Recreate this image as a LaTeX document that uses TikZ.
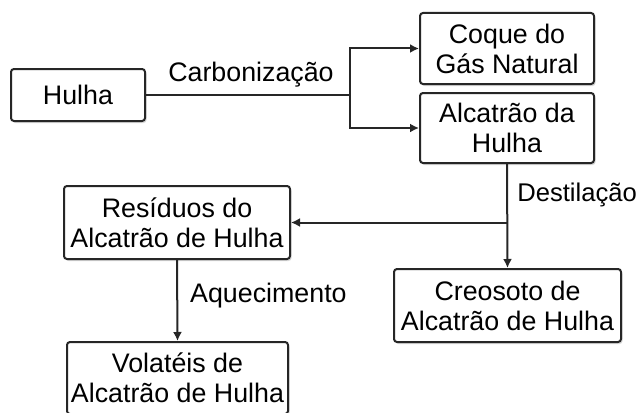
\documentclass[tikz,border=0pt]{standalone}
\usepackage{fontspec}
\setmainfont{Liberation Sans}
\usetikzlibrary{arrows.meta,shadows}
\begin{document}
\begin{tikzpicture}[x=1pt,y=-1pt,
  box/.style={draw=black!85,line width=2pt,rounded corners=3pt,fill=white,
    align=center,inner sep=0pt,font=\fontsize{26.8}{30}\selectfont,
    drop shadow={shadow xshift=1.5pt,shadow yshift=-2pt,fill=black!25,opacity=0.6}},
  conn/.style={line width=2pt,draw=black!85},
  arr/.style={conn,-{Latex[length=9pt,width=9pt]}},
  lbl/.style={font=\fontsize{26.8}{30}\selectfont,inner sep=0pt}]
\useasboundingbox (0,0) rectangle (639,412);
\clip (0,0) rectangle (639,412);
\node[box,minimum width=134pt,minimum height=52pt] (hulha) at (78,95) {Hulha};
\node[box,minimum width=174pt,minimum height=71pt] (coque) at (507,48.5) {Coque do\\Gás Natural};
\node[box,minimum width=174pt,minimum height=70pt] (alc) at (507,128) {Alcatrão da\\Hulha};
\node[box,minimum width=226pt,minimum height=73pt] (res) at (177,222.5) {Resíduos do\\Alcatrão de Hulha};
\node[box,minimum width=227pt,minimum height=73pt] (cre) at (507.5,305.5) {Creosoto de\\Alcatrão de Hulha};
\node[box,minimum width=221pt,minimum height=72pt] (vol) at (177.5,378) {Volatéis de\\Alcatrão de Hulha};
\coordinate (j1) at (350,95);
\coordinate (j2) at (507,222.5);
\draw[conn] (hulha.east) -- (j1);
\draw[arr] (j1) |- (coque.west);
\draw[arr] (j1) |- (alc.west);
\draw[arr] (alc.south) -- (cre.north);
\draw[arr] (j2) -- (res.east);
\draw[arr] (res.south) -- (vol.north);
\node[lbl] (lc) at (251,75) {Carbonização};
\node[lbl,anchor=east,font=\fontsize{25.6}{30}\selectfont] (ld) at (637,195) {Destilação};
\node[lbl,anchor=west] (la) at (190,296) {Aquecimento};
\end{tikzpicture}
\end{document}
